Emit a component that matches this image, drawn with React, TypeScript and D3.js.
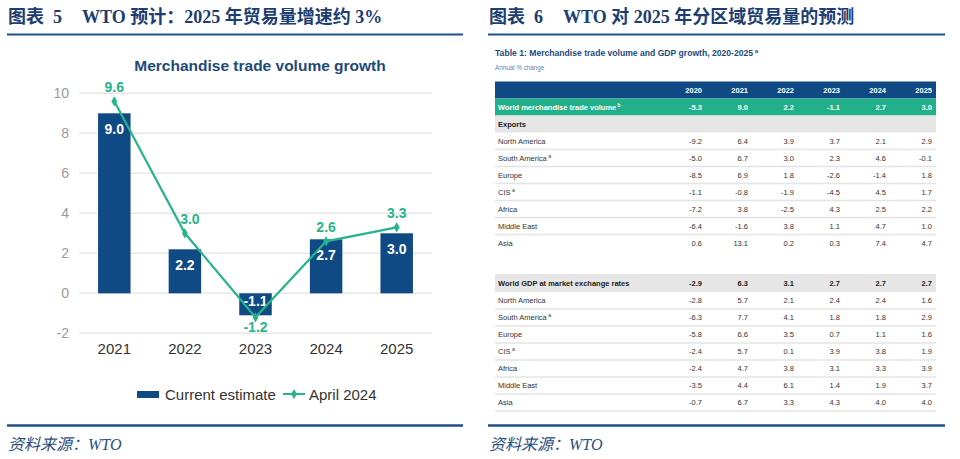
import React from 'react';
import * as d3 from 'd3';

const years = ['2021', '2022', '2023', '2024', '2025'];
const currentEstimate = [9.0, 2.2, -1.1, 2.7, 3.0];
const april2024 = [9.6, 3.0, -1.2, 2.6, 3.3];
const yTicks = [-2, 0, 2, 4, 6, 8, 10];

const tableYears = ['2020', '2021', '2022', '2023', '2024', '2025'];
const worldTrade = [-5.3, 9.0, 2.2, -1.1, 2.7, 3.0];
const regions = ['North America', 'South America', 'Europe', 'CIS', 'Africa', 'Middle East', 'Asia'];
const regionNotes = ['', 'a', '', 'a', '', '', ''];
const exportsNA = [-9.2, 6.4, 3.9, 3.7, 2.1, 2.9];
const exportsSA = [-5.0, 6.7, 3.0, 2.3, 4.6, -0.1];
const exportsEU = [-8.5, 6.9, 1.8, -2.6, -1.4, 1.8];
const exportsCIS = [-1.1, -0.8, -1.9, -4.5, 4.5, 1.7];
const exportsAF = [-7.2, 3.8, -2.5, 4.3, 2.5, 2.2];
const exportsME = [-6.4, -1.6, 3.8, 1.1, 4.7, 1.0];
const exportsAS = [0.6, 13.1, 0.2, 0.3, 7.4, 4.7];
const worldGDP = [-2.9, 6.3, 3.1, 2.7, 2.7, 2.7];
const gdpNA = [-2.8, 5.7, 2.1, 2.4, 2.4, 1.6];
const gdpSA = [-6.3, 7.7, 4.1, 1.8, 1.8, 2.9];
const gdpEU = [-5.8, 6.6, 3.5, 0.7, 1.1, 1.6];
const gdpCIS = [-2.4, 5.7, 0.1, 3.9, 3.8, 1.9];
const gdpAF = [-2.4, 4.7, 3.8, 3.1, 3.3, 3.9];
const gdpME = [-3.5, 4.4, 6.1, 1.4, 1.9, 3.7];
const gdpAS = [-0.7, 6.7, 3.3, 4.3, 4.0, 4.0];

const exportsRows = [exportsNA, exportsSA, exportsEU, exportsCIS, exportsAF, exportsME, exportsAS];
const gdpRows = [gdpNA, gdpSA, gdpEU, gdpCIS, gdpAF, gdpME, gdpAS];

const NAVY = '#0f4a84';
const GREEN = '#27b48c';
const TITLE = '#1c3e72';
const SANS = '"Liberation Sans", Arial, sans-serif';
const SERIF_CJK = '"Liberation Serif", "Noto Sans CJK SC", serif';

const fmt = (v: number) => v.toFixed(1);

function LeftChart() {
  const x = d3.scaleBand<string>().domain(years).range([79, 432]).paddingInner(0.54).paddingOuter(0.27);
  const y = d3.scaleLinear().domain([-2, 10]).range([333.3, 93.3]);
  const line = d3
    .line<number>()
    .x((_, i) => (x(years[i]) as number) + x.bandwidth() / 2)
    .y((d) => y(d));
  const diamond = d3.symbol().type(d3.symbolDiamond).size(30)();
  return (
    <g>
      <text x={260} y={65} textAnchor="middle" dominantBaseline="central" fontFamily={SANS} fontWeight="bold" fontSize={15.5} fill="#1d4a7c">
        Merchandise trade volume growth
      </text>
      {yTicks.map((t) => (
        <g key={t}>
          <line x1={79} x2={432} y1={y(t)} y2={y(t)} stroke="#e6e6e6" strokeWidth={1.5} />
          <text x={69} y={y(t)} textAnchor="end" dominantBaseline="central" fontFamily={SANS} fontSize={14} fill="#9a9a9a">
            {t}
          </text>
        </g>
      ))}
      {years.map((yr, i) => {
        const v = currentEstimate[i];
        const bx = x(yr) as number;
        const top = Math.min(y(v), y(0));
        const h = Math.abs(y(v) - y(0));
        const cx = bx + x.bandwidth() / 2;
        return (
          <g key={yr}>
            <rect x={bx} y={top} width={x.bandwidth()} height={h} fill={NAVY} />
            <text x={cx} y={v >= 0 ? y(v) + 16 : y(0) + 8} textAnchor="middle" dominantBaseline="central" fontFamily={SANS} fontWeight="bold" fontSize={14} fill="#ffffff">
              {fmt(v)}
            </text>
            <text x={cx} y={348} textAnchor="middle" dominantBaseline="central" fontFamily={SANS} fontSize={15} fill="#333333">
              {yr}
            </text>
          </g>
        );
      })}
      <path d={line(april2024) || ''} fill="none" stroke={GREEN} strokeWidth={2.2} />
      {april2024.map((v, i) => {
        const cx = (x(years[i]) as number) + x.bandwidth() / 2;
        return (
          <g key={i}>
            <path d={diamond || ''} transform={`translate(${cx},${y(v)})`} fill={GREEN} />
            <text x={cx + (i === 1 ? 5 : 0)} y={v >= 0 ? y(v) - 14 : y(v) + 10} textAnchor="middle" dominantBaseline="central" fontFamily={SANS} fontWeight="bold" fontSize={14} fill={GREEN}>
              {fmt(v)}
            </text>
          </g>
        );
      })}
      <g>
        <rect x={137} y={391} width={22} height={7} fill={NAVY} />
        <text x={165} y={394} dominantBaseline="central" fontFamily={SANS} fontSize={15} fill="#333333">
          Current estimate
        </text>
        <line x1={283} x2={305} y1={394} y2={394} stroke={GREEN} strokeWidth={2} />
        <path d={diamond || ''} transform="translate(294,394)" fill={GREEN} />
        <text x={309} y={394} dominantBaseline="central" fontFamily={SANS} fontSize={15} fill="#333333">
          April 2024
        </text>
      </g>
    </g>
  );
}

function RightTable() {
  const col = d3.scalePoint<string>().domain(tableYears).range([702, 932]);
  const tx0 = 495;
  const tx1 = 936;
  const rowH = 17;
  const fs = 7.5;
  const s1 = 81.5;
  const s2 = 274;
  const valueCells = (vals: number[], yc: number, bold: boolean, color: string) =>
    vals.map((v, j) => (
      <text key={j} x={col(tableYears[j]) as number} y={yc} textAnchor="end" dominantBaseline="central" fontFamily={SANS} fontWeight={bold ? 'bold' : 'normal'} fontSize={fs} fill={color}>
        {fmt(v)}
      </text>
    ));
  const regionRows = (rows: number[][], start: number, bottomLine: boolean) =>
    rows.map((vals, i) => {
      const top = start + i * rowH;
      const yc = top + rowH / 2;
      return (
        <g key={i}>
          {(i < rows.length - 1 || bottomLine) && (
            <line x1={tx0} x2={tx1} y1={top + rowH} y2={top + rowH} stroke="#e4e4e4" strokeWidth={1.5} />
          )}
          <text x={tx0 + 3} y={yc} dominantBaseline="central" fontFamily={SANS} fontSize={fs} fill="#333333">
            {regions[i]}
            {regionNotes[i] && (
              <tspan fontSize={5} dy={-2.5}>
                {' ' + regionNotes[i]}
              </tspan>
            )}
          </text>
          {valueCells(vals, yc, false, '#333333')}
        </g>
      );
    });
  return (
    <g>
      <text x={495} y={53} dominantBaseline="central" fontFamily={SANS} fontWeight="bold" fontSize={8.6} fill="#1d4a7c">
        Table 1: Merchandise trade volume and GDP growth, 2020-2025
        <tspan fontSize={6} dy={-2}> a</tspan>
      </text>
      <text x={495} y={67.5} dominantBaseline="central" fontFamily={SANS} fontSize={6.3} fill="#6a86a6">
        Annual % change
      </text>
      <rect x={tx0} y={s1} width={tx1 - tx0} height={rowH} fill={NAVY} />
      {tableYears.map((yr) => (
        <text key={yr} x={col(yr) as number} y={s1 + rowH / 2} textAnchor="end" dominantBaseline="central" fontFamily={SANS} fontWeight="bold" fontSize={fs} fill="#ffffff">
          {yr}
        </text>
      ))}
      <rect x={tx0} y={s1 + rowH} width={tx1 - tx0} height={rowH} fill="#22b08b" />
      <text x={tx0 + 3} y={s1 + rowH * 1.5} dominantBaseline="central" fontFamily={SANS} fontWeight="bold" fontSize={fs} fill="#ffffff">
        World merchandise trade volume
        <tspan fontSize={5} dy={-2.5}> b</tspan>
      </text>
      {valueCells(worldTrade, s1 + rowH * 1.5, true, '#ffffff')}
      <rect x={tx0} y={s1 + rowH * 2} width={tx1 - tx0} height={rowH} fill="#e6e6e6" />
      <text x={tx0 + 3} y={s1 + rowH * 2.5} dominantBaseline="central" fontFamily={SANS} fontWeight="bold" fontSize={fs} fill="#222222">
        Exports
      </text>
      {regionRows(exportsRows, s1 + rowH * 3, false)}

      <rect x={tx0} y={s2} width={tx1 - tx0} height={rowH + 1} fill="#e6e6e6" />
      <text x={tx0 + 3} y={s2 + rowH / 2 + 0.5} dominantBaseline="central" fontFamily={SANS} fontWeight="bold" fontSize={fs} fill="#222222">
        World GDP at market exchange rates
      </text>
      {valueCells(worldGDP, s2 + rowH / 2 + 0.5, true, '#222222')}
      {regionRows(gdpRows, s2 + rowH + 1, true)}
    </g>
  );
}

function Panel({ x0, x1, label, num, rest }: { x0: number; x1: number; label: string; num: string; rest: string }) {
  return (
    <g>
      <text x={x0 + 1} y={17} dominantBaseline="central" fontFamily={SERIF_CJK} fontWeight="bold" fontSize={18} fill={TITLE}>
        {label}
        <tspan dx={9}>{num}</tspan>
        <tspan dx={20}>{rest}</tspan>
      </text>
      <line x1={x0} x2={x1} y1={34.5} y2={34.5} stroke="#1f4f8c" strokeWidth={2} />
      <line x1={x0} x2={x1} y1={425.5} y2={425.5} stroke="#1f4f8c" strokeWidth={2.5} />
      <text x={x0 + 1} y={444} dominantBaseline="central" fontFamily={SERIF_CJK} fontStyle="italic" fontSize={16} fill="#2a4f80">
        资料来源：WTO
      </text>
    </g>
  );
}

export default function App() {
  return (
    <svg width={960} height={459} style={{ position: 'absolute', left: 0, top: 0, background: '#ffffff' }}>
      <rect x={0} y={0} width={960} height={459} fill="#ffffff" />
      <Panel x0={7} x1={463} label="图表" num="5" rest="WTO 预计：2025 年贸易量增速约 3%" />
      <Panel x0={488} x1={945} label="图表" num="6" rest="WTO 对 2025 年分区域贸易量的预测" />
      <LeftChart />
      <RightTable />
    </svg>
  );
}
